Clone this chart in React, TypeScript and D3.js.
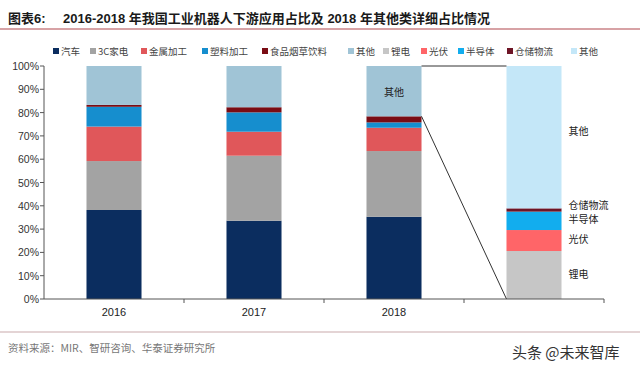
import * as d3 from "d3";

// data (%)
const years = ["2016", "2017", "2018"];
const auto = [38.2, 33.6, 35.3];
const elec3c = [21.0, 27.9, 28.2];
const metal = [14.8, 10.3, 10.0];
const plastic = [8.5, 8.3, 2.3];
const food = [0.8, 2.2, 2.6];
const other = [16.7, 17.7, 21.6];

// 2018 "其他" breakdown (%)
const detailNames = ["锂电", "光伏", "半导体", "仓储物流", "其他"];
const detailValues = [20.6, 9.0, 7.9, 1.4, 61.1];

const mainNames = ["汽车", "3C家电", "金属加工", "塑料加工", "食品烟草饮料", "其他"];
const mainColors = ["#0b2d5f", "#a3a3a3", "#e0575a", "#168ece", "#7a0c14", "#a0c4d6"];
const detailColors = ["#c6c6c6", "#ff6568", "#12adee", "#6e1526", "#c4e7f8"];

const yTicks = [0, 10, 20, 30, 40, 50, 60, 70, 80, 90, 100];

const legendX = [53, 90, 141, 202, 262, 348, 383, 421, 458, 507, 571];

const font = "'Liberation Sans', 'Noto Sans CJK SC', sans-serif";
const cjk = "'Noto Sans CJK SC', sans-serif";

export default function App() {
  const width = 640;
  const height = 370;
  const left = 44;
  const right = 604;
  const top = 66;
  const bottom = 299;

  const x = d3
    .scaleBand()
    .domain([...years, "detail"])
    .range([left, right])
    .paddingInner(0.607)
    .paddingOuter(0.3035);
  const y = d3.scaleLinear().domain([0, 100]).range([bottom, top]);

  const rows = years.map((yr, i) => ({
    year: yr,
    k0: auto[i],
    k1: elec3c[i],
    k2: metal[i],
    k3: plastic[i],
    k4: food[i],
    k5: other[i],
  }));
  const keys = ["k0", "k1", "k2", "k3", "k4", "k5"];
  const series = d3.stack<any>().keys(keys)(rows);

  const detailRow: any = { year: "detail" };
  detailValues.forEach((v, i) => (detailRow["d" + i] = v));
  const dKeys = detailValues.map((_, i) => "d" + i);
  const dSeries = d3.stack<any>().keys(dKeys)([detailRow]);

  const bw = x.bandwidth();
  const x2018 = (x("2018") as number) + bw;
  const xDet = x("detail") as number;
  const otherBottom = series[5][2][0];

  const step = x.step();
  const boundaries = [1, 2, 3, 4].map((i) => left + step * i);

  // label centres in value units
  const labelY: Record<string, number> = {
    其他: y(72),
    仓储物流: y(40.2),
    半导体: y(34.2),
    光伏: y(25.5),
    锂电: y(10.5),
  };

  const legendNames = [...mainNames, ...detailNames];
  const legendColors = [...mainColors, ...detailColors];

  return (
    <svg width={width} height={height} style={{ position: "absolute", left: 0, top: 0, background: "#fff" }}>
      {/* title */}
      <text x={8} y={23} fontFamily={font} fontSize={13} fontWeight="bold" fill="#1a1a1a">
        图表6:
      </text>
      <text x={63} y={23} fontFamily={font} fontSize={13} fontWeight="bold" fill="#1a1a1a">
        2016-2018 年我国工业机器人下游应用占比及 2018 年其他类详细占比情况
      </text>
      <line x1={0} x2={640} y1={29} y2={29} stroke="#b0474c" strokeWidth={1.2} />

      {/* legend */}
      {legendNames.map((n, i) => (
        <g key={"lg" + i}>
          <rect x={legendX[i]} y={48} width={6} height={6} fill={legendColors[i]} />
          <text x={legendX[i] + 8} y={54.5} fontFamily={cjk} fontSize={9.5} fill="#444">
            {n}
          </text>
        </g>
      ))}

      {/* bars */}
      {series.map((s, si) =>
        s.map((d: any) => (
          <rect
            key={si + d.data.year}
            x={x(d.data.year)}
            y={y(d[1])}
            width={bw}
            height={y(d[0]) - y(d[1])}
            fill={mainColors[si]}
          />
        ))
      )}
      {dSeries.map((s, si) =>
        s.map((d: any) => (
          <rect
            key={"d" + si}
            x={xDet}
            y={y(d[1])}
            width={bw}
            height={y(d[0]) - y(d[1])}
            fill={detailColors[si]}
          />
        ))
      )}

      {/* connector lines */}
      <line x1={x2018} y1={y(100)} x2={xDet} y2={y(100)} stroke="#333" strokeWidth={1} />
      <line x1={x2018} y1={y(otherBottom)} x2={xDet} y2={y(0)} stroke="#333" strokeWidth={1} />

      {/* labels */}
      <text
        x={(x("2018") as number) + bw / 2}
        y={y(89) + 4}
        textAnchor="middle"
        fontFamily={cjk}
        fontSize={10}
        fill="#222"
      >
        其他
      </text>
      {detailNames.map((n) => (
        <text key={"dl" + n} x={xDet + bw + 7} y={labelY[n] + 3.5} fontFamily={cjk} fontSize={10} fill="#222">
          {n}
        </text>
      ))}

      {/* y axis */}
      <line x1={left} x2={left} y1={top} y2={bottom} stroke="#555" />
      {yTicks.map((t) => (
        <g key={"yt" + t}>
          <line x1={left - 4} x2={left} y1={y(t)} y2={y(t)} stroke="#555" />
          <text x={left - 5} y={y(t) + 4} textAnchor="end" fontFamily={font} fontSize={10.5} fill="#333">
            {t}%
          </text>
        </g>
      ))}

      {/* x axis */}
      <line x1={left} x2={right} y1={bottom} y2={bottom} stroke="#555" />
      {boundaries.map((b, i) => (
        <line key={"xt" + i} x1={b} x2={b} y1={bottom} y2={bottom + 4} stroke="#555" />
      ))}
      {years.map((yr) => (
        <text
          key={"xl" + yr}
          x={(x(yr) as number) + bw / 2}
          y={bottom + 17}
          textAnchor="middle"
          fontFamily={font}
          fontSize={11}
          fill="#222"
        >
          {yr}
        </text>
      ))}

      {/* footer */}
      <line x1={0} x2={640} y1={332} y2={332} stroke="#c9a9ab" strokeWidth={1.2} />
      <text x={8} y={352} fontFamily={cjk} fontSize={10.5} fill="#777">
        资料来源：MIR、智研咨询、华泰证券研究所
      </text>
      <text x={512} y={358} fontFamily={cjk} fontSize={15} fill="#333">
        头条 @未来智库
      </text>
    </svg>
  );
}
